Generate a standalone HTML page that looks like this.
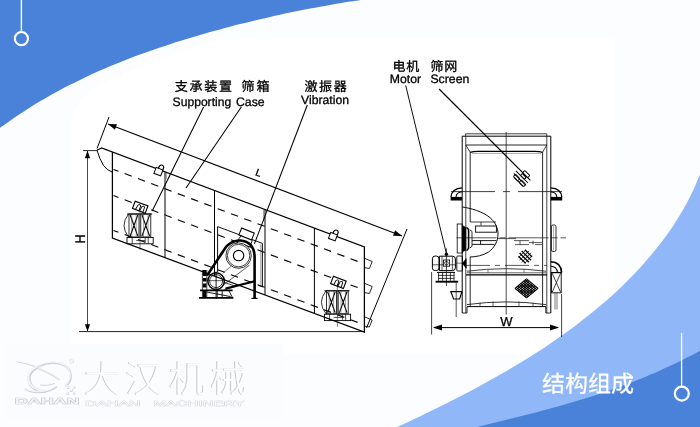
<!DOCTYPE html>
<html lang="zh">
<head>
<meta charset="utf-8">
<title>结构组成</title>
<style>
html,body{margin:0;padding:0;background:#fcfdff;}
body{width:700px;height:427px;overflow:hidden;}
svg{display:block;will-change:transform;}
text{white-space:pre;text-rendering:geometricPrecision;}
</style>
</head>
<body>
<svg width="700" height="427" viewBox="0 0 700 427">
<rect x="0" y="0" width="700" height="427" fill="#fcfdff"/>
<path fill="#ffffff" d="M614 37.5 L614 354 L70 354 L70 130 Q72 100 100 85 Q150 60 225 37.5 Z"/>
<path fill="#4a82da" d="M-5 -5 L-5 127.8 L0.0 127.8 C1.7 126.6 6.7 123.0 10.0 120.7 C13.3 118.3 16.7 116.1 20.0 113.9 C23.3 111.7 26.7 109.5 30.0 107.4 C33.3 105.3 36.7 103.3 40.0 101.3 C43.3 99.4 46.7 97.4 50.0 95.5 C53.3 93.7 56.7 91.8 60.0 90.1 C63.3 88.3 66.7 86.5 70.0 84.8 C73.3 83.1 76.7 81.5 80.0 79.9 C83.3 78.3 86.7 76.7 90.0 75.1 C93.3 73.6 96.7 72.1 100.0 70.6 C103.3 69.2 106.7 67.7 110.0 66.3 C113.3 64.9 116.7 63.6 120.0 62.2 C123.3 60.9 126.7 59.6 130.0 58.3 C133.3 57.0 136.7 55.8 140.0 54.6 C143.3 53.3 146.7 52.2 150.0 51.0 C153.3 49.8 156.7 48.7 160.0 47.5 C163.3 46.4 166.7 45.3 170.0 44.2 C173.3 43.1 176.7 42.1 180.0 41.0 C183.3 40.0 186.7 39.0 190.0 38.0 C193.3 36.9 196.7 36.0 200.0 35.0 C203.3 34.0 206.7 33.1 210.0 32.1 C213.3 31.2 216.7 30.3 220.0 29.4 C223.3 28.5 226.7 27.6 230.0 26.7 C233.3 25.8 236.7 25.0 240.0 24.1 C243.3 23.3 246.7 22.5 250.0 21.7 C253.3 20.8 256.7 20.0 260.0 19.3 C263.3 18.5 266.7 17.7 270.0 16.9 C273.3 16.2 276.7 15.4 280.0 14.7 C283.3 14.0 286.7 13.3 290.0 12.6 C293.3 11.9 296.7 11.2 300.0 10.5 C303.3 9.8 306.7 9.2 310.0 8.5 C313.3 7.9 316.7 7.3 320.0 6.7 C323.3 6.1 326.7 5.5 330.0 4.9 C333.3 4.3 336.7 3.7 340.0 3.2 C343.3 2.7 346.7 2.1 350.0 1.6 C353.3 1.1 358.3 0.4 360.0 0.2 L360.0 -5 Z"/>
<path fill="#90b8f8" d="M705 432 L705 167.0 L700 175.0 C698.9 176.7 697.0 181.7 695.5 185.1 C694.1 188.4 692.5 191.8 690.8 195.2 C689.2 198.5 687.4 201.9 685.6 205.2 C683.7 208.6 681.8 212.0 679.8 215.3 C677.7 218.7 675.6 222.0 673.4 225.4 C671.1 228.8 668.8 232.1 666.4 235.5 C664.0 238.8 661.5 242.2 658.8 245.6 C656.2 248.9 653.5 252.3 650.7 255.6 C647.9 259.0 644.9 262.4 641.9 265.7 C638.9 269.1 635.7 272.4 632.5 275.8 C629.2 279.2 625.8 282.5 622.4 285.9 C618.9 289.2 615.3 292.6 611.6 296.0 C607.8 299.3 604.0 302.7 600.0 306.0 C596.1 309.4 592.0 312.8 587.7 316.1 C583.5 319.5 579.2 322.8 574.7 326.2 C570.2 329.6 565.5 332.9 560.8 336.3 C556.0 339.6 551.1 343.0 546.1 346.4 C541.0 349.7 535.8 353.1 530.5 356.4 C525.1 359.8 519.7 363.2 514.0 366.5 C508.4 369.9 502.6 373.2 496.7 376.6 C490.8 380.0 484.7 383.3 478.5 386.7 C472.3 390.0 466.0 393.4 459.4 396.8 C452.9 400.1 446.3 403.5 439.5 406.8 C432.7 410.2 425.8 413.6 418.7 416.9 C411.7 420.3 400.7 425.3 397.1 427.0 L389.1 432 Z"/>
<path fill="#4a82da" d="M705 432 L705 348.7 L700 350.7 C698.3 351.6 693.3 354.4 689.9 356.1 C686.5 357.9 683.2 359.6 679.8 361.2 C676.5 362.9 673.1 364.5 669.7 366.1 C666.4 367.6 663.0 369.2 659.6 370.7 C656.3 372.2 652.9 373.6 649.5 375.0 C646.2 376.5 642.8 377.8 639.5 379.2 C636.1 380.6 632.7 381.9 629.4 383.2 C626.0 384.4 622.6 385.7 619.3 386.9 C615.9 388.1 612.5 389.3 609.2 390.5 C605.8 391.7 602.5 392.8 599.1 393.9 C595.7 395.0 592.4 396.1 589.0 397.2 C585.6 398.2 582.3 399.3 578.9 400.3 C575.5 401.3 572.2 402.3 568.8 403.3 C565.5 404.3 562.1 405.2 558.7 406.2 C555.4 407.1 552.0 408.0 548.6 409.0 C545.3 409.9 541.9 410.8 538.5 411.7 C535.2 412.5 531.8 413.4 528.5 414.3 C525.1 415.1 521.7 416.0 518.4 416.8 C515.0 417.7 511.6 418.5 508.3 419.3 C504.9 420.2 501.5 421.0 498.2 421.8 C494.8 422.6 491.5 423.4 488.1 424.2 C484.7 425.1 479.7 426.3 478.0 426.7 L464.0 432 Z"/>
<g stroke="#ffffff" fill="none"><line x1="21.4" y1="0" x2="21.4" y2="32" stroke-width="1.4"/><circle cx="21.4" cy="38.6" r="6.6" stroke-width="2.2"/><line x1="681.6" y1="333" x2="681.6" y2="387" stroke-width="1.3"/><circle cx="681.8" cy="393.6" r="7" stroke-width="2.2"/></g>
<text x="542" y="392.4" font-family="'Liberation Sans','Noto Sans CJK SC',sans-serif" font-size="23" fill="#ffffff" stroke="#ffffff" stroke-width="0.3">结构组成</text>
<g font-family="'Liberation Sans','Noto Sans CJK SC',sans-serif" fill="#000000" stroke="#000000" stroke-linejoin="round">
<text y="91.2" font-size="13.0" stroke-width="0.33"><tspan x="174.8 189.5 204.2 218.9">支承装置</tspan> <tspan x="241.4 256.4">筛箱</tspan></text>
<text y="106.0" font-size="12.3" stroke-width="0.30"><tspan x="172.6" textLength="58.6" lengthAdjust="spacingAndGlyphs">Supporting</tspan> <tspan x="236.0" textLength="28.6" lengthAdjust="spacingAndGlyphs">Case</tspan></text>
<text y="90.9" font-size="13.0" stroke-width="0.33"><tspan x="304.4 319.1 333.8">激振器</tspan></text>
<text y="103.9" font-size="12.1" stroke-width="0.30"><tspan x="301.0" textLength="48.0" lengthAdjust="spacingAndGlyphs">Vibration</tspan></text>
<text y="71.4" font-size="13.0" stroke-width="0.33"><tspan x="392.6 406.3">电机</tspan> <tspan x="430.4 444.3">筛网</tspan></text>
<text y="82.9" font-size="12.2" stroke-width="0.30"><tspan x="389.8" textLength="31.3" lengthAdjust="spacingAndGlyphs">Motor</tspan> <tspan x="430.4" textLength="39.0" lengthAdjust="spacingAndGlyphs">Screen</tspan></text>
</g>
<g id="left-view" fill="none" stroke="#000" stroke-linecap="butt" stroke-linejoin="miter">
<line x1="79.0" y1="331.6" x2="364.4" y2="331.6" stroke="#222" stroke-width="1.00"/>
<line x1="87.5" y1="151.0" x2="87.5" y2="331.0" stroke="#333" stroke-width="0.90"/>
<line x1="83.0" y1="150.6" x2="97.0" y2="150.6" stroke="#111" stroke-width="0.90"/>
<path d="M87.5 150.6 L84.9 158.2 L90.1 158.2 Z" fill="#000" stroke="none"/>
<path d="M87.5 331.6 L84.9 324.2 L90.1 324.2 Z" fill="#000" stroke="none"/>
<line x1="109.0" y1="117.0" x2="97.0" y2="148.5" stroke="#000" stroke-width="1.00"/>
<line x1="108.0" y1="124.0" x2="402.0" y2="236.0" stroke="#000" stroke-width="1.10"/>
<line x1="407.0" y1="229.0" x2="366.5" y2="328.0" stroke="#000" stroke-width="1.00"/>
<path d="M0 0 L8.5 -2.9 L8.5 2.9 Z" fill="#000" stroke="none" transform="translate(108 124) rotate(20.85)"/>
<path d="M0 0 L-8.5 -2.9 L-8.5 2.9 Z" fill="#000" stroke="none" transform="translate(402 236) rotate(20.85)"/>
<path d="M97 150.3 L101.6 148 L364.4 246.9 L364.4 332 L112.4 238 L112.4 152.5" fill="none" stroke="#000" stroke-width="1.25"/>
<path d="M97 150.3 Q99.5 159 103.5 165.5 Q106.5 170 112 172" fill="none" stroke="#000" stroke-width="1.00"/>
<line x1="165.0" y1="171.9" x2="165.0" y2="257.6" stroke="#000" stroke-width="1.00"/>
<line x1="214.5" y1="190.5" x2="214.5" y2="276.1" stroke="#000" stroke-width="1.00"/>
<line x1="265.0" y1="209.5" x2="265.0" y2="294.9" stroke="#000" stroke-width="1.00"/>
<line x1="314.4" y1="228.1" x2="314.4" y2="313.3" stroke="#000" stroke-width="1.00"/>
<line x1="166.4" y1="172.3" x2="166.4" y2="179.3" stroke="#333" stroke-width="0.50"/>
<line x1="263.6" y1="209.1" x2="263.6" y2="221.1" stroke="#333" stroke-width="0.50"/>
<line x1="113.5" y1="169.4" x2="363.0" y2="263.4" stroke="#000" stroke-width="1.1" stroke-dasharray="7.6 6.6" stroke-dashoffset="2.3"/>
<line x1="113.5" y1="195.6" x2="363.0" y2="289.6" stroke="#000" stroke-width="1.1" stroke-dasharray="7.6 6.6" stroke-dashoffset="2.3"/>
<line x1="113.5" y1="230.4" x2="363.0" y2="324.4" stroke="#000" stroke-width="1.1" stroke-dasharray="7.6 6.6" stroke-dashoffset="2.3"/>
<g transform="translate(158.5 171.5) rotate(20.6)"><path d="M-3.6 -3 L3.6 -3 L3.6 3.4 L-3.6 3.4 Z" fill="#fff" stroke="#000" stroke-width="1"/><path d="M-1.2 -3 Q-1.6 -7.4 1.6 -7.2 Q4 -7 3.4 -3" fill="none" stroke="#000" stroke-width="1.2"/></g>
<g transform="translate(333.0 236.5) rotate(20.6)"><path d="M-3.6 -3 L3.6 -3 L3.6 3.4 L-3.6 3.4 Z" fill="#fff" stroke="#000" stroke-width="1"/><path d="M-1.2 -3 Q-1.6 -7.4 1.6 -7.2 Q4 -7 3.4 -3" fill="none" stroke="#000" stroke-width="1.2"/></g>
<path d="M365 258.5 L372.2 261.5 L369.4 268.5 L365 267.7" fill="none" stroke="#111" stroke-width="0.90"/>
<path d="M365 283.5 L372.2 286.5 L369.4 293.5 L365 292.7" fill="none" stroke="#111" stroke-width="0.90"/>
<path d="M365 317.0 L372.2 320.0 L369.4 327.0 L365 326.2" fill="none" stroke="#111" stroke-width="0.90"/>
<g transform="translate(127.6 214.0)" stroke="#000" stroke-width="0.75" fill="none"><path d="M1 0 Q-8.2 11.5 1 23" stroke-width="0.8"/><rect x="1.4" y="0" width="10" height="23" stroke-width="0.8"/><path d="M2.6 1 L10.2 22 M10.2 1 L2.6 22" stroke-width="1.05"/><path d="M4.2 0 L4.2 23 M8.6 0 L8.6 23" stroke-width="0.5" stroke="#444"/><rect x="13.2" y="0" width="10" height="23" stroke-width="0.8"/><path d="M14.4 1 L22.0 22 M22.0 1 L14.4 22" stroke-width="1.05"/><path d="M16.0 0 L16.0 23 M20.4 0 L20.4 23" stroke-width="0.5" stroke="#444"/><path d="M-0.6 0 L24.6 0" stroke-width="1"/><rect x="-0.6" y="23.4" width="26.2" height="6.4" stroke-width="0.9"/><path d="M4.6 23.4 L4.6 29.8 M20.6 23.4 L20.6 29.8 M8.6 26.6 L17.6 26.6 M17.6 24 L17.6 29" stroke-width="0.7"/><path d="M12.4 -6 L12.4 36" stroke-width="0.6" stroke="#222"/></g>
<g transform="translate(140.2 207.2) rotate(20.6)" stroke="#000" fill="none"><rect x="-6.8" y="-3.9" width="13.6" height="7.8" stroke-width="1.15" fill="#fff"/><path d="M-3.6 3.6 L-2.8 -1.2 Q-1.4 -3 0 -1.2 L0 3.6 M0.8 3.6 L1.4 -1.2 Q2.8 -3 4.2 -1.2 L4.2 3.6" stroke-width="0.9"/></g>
<g transform="translate(325.0 290.8)" stroke="#000" stroke-width="0.75" fill="none"><path d="M1 0 Q-8.2 11.5 1 23" stroke-width="0.8"/><rect x="1.4" y="0" width="10" height="23" stroke-width="0.8"/><path d="M2.6 1 L10.2 22 M10.2 1 L2.6 22" stroke-width="1.05"/><path d="M4.2 0 L4.2 23 M8.6 0 L8.6 23" stroke-width="0.5" stroke="#444"/><rect x="13.2" y="0" width="10" height="23" stroke-width="0.8"/><path d="M14.4 1 L22.0 22 M22.0 1 L14.4 22" stroke-width="1.05"/><path d="M16.0 0 L16.0 23 M20.4 0 L20.4 23" stroke-width="0.5" stroke="#444"/><path d="M-0.6 0 L24.6 0" stroke-width="1"/><rect x="-0.6" y="23.4" width="26.2" height="6.4" stroke-width="0.9"/><path d="M4.6 23.4 L4.6 29.8 M20.6 23.4 L20.6 29.8 M8.6 26.6 L17.6 26.6 M17.6 24 L17.6 29" stroke-width="0.7"/><path d="M12.4 -6 L12.4 36" stroke-width="0.6" stroke="#222"/></g>
<g transform="translate(338.4 282.4) rotate(20.6)" stroke="#000" fill="none"><rect x="-6.8" y="-3.9" width="13.6" height="7.8" stroke-width="1.15" fill="#fff"/><path d="M-3.6 3.6 L-2.8 -1.2 Q-1.4 -3 0 -1.2 L0 3.6 M0.8 3.6 L1.4 -1.2 Q2.8 -3 4.2 -1.2 L4.2 3.6" stroke-width="0.9"/></g>
<path d="M217.6 272 L217.6 226.6 L262.4 243.4 L262.4 287" fill="none" stroke="#000" stroke-width="0.95"/>
<line x1="260.8" y1="244.5" x2="260.8" y2="286.4" stroke="#333" stroke-width="0.50"/>
<path d="M258.4 285.4 L262.8 287" fill="none" stroke="#111" stroke-width="0.80"/>
<g transform="translate(246.6 234) rotate(22)" stroke="#000" fill="#fff"><rect x="-6.8" y="-3.7" width="13.6" height="7.4" stroke-width="1"/></g>
<line x1="241.2" y1="235.6" x2="236.2" y2="242.4" stroke="#000" stroke-width="0.90"/>
<line x1="252.4" y1="240.2" x2="250.6" y2="244.6" stroke="#000" stroke-width="0.90"/>
<circle cx="238.6" cy="255.6" r="12.7" stroke="#000" stroke-width="0.80" fill="#fff"/>
<circle cx="238.6" cy="255.6" r="11.2" stroke="#000" stroke-width="0.75" fill="none"/>
<circle cx="238.6" cy="255.6" r="5.2" stroke="#000" stroke-width="1.10" fill="none"/>
<path d="M207 275.6 L226.2 246.6 Q232.6 240.2 240.2 240.5 Q254.6 241.8 254.6 257.6 L254.6 298.4" fill="none" stroke="#000" stroke-width="2.60"/>
<path d="M254.6 281.2 L225.6 288.6" fill="none" stroke="#000" stroke-width="2.20"/>
<line x1="249.6" y1="265.0" x2="222.6" y2="285.6" stroke="#111" stroke-width="0.70"/>
<line x1="231.4" y1="266.0" x2="222.6" y2="273.4" stroke="#222" stroke-width="0.60"/>
<circle cx="216.1" cy="281.1" r="8.3" stroke="#000" stroke-width="1.5" fill="none"/>
<circle cx="216.1" cy="281.1" r="6.5" stroke="#000" stroke-width="0.8" fill="none"/>
<line x1="207.6" y1="280.7" x2="225.0" y2="280.7" stroke="#111" stroke-width="0.70"/>
<line x1="216.1" y1="271.6" x2="216.1" y2="299.0" stroke="#000" stroke-width="0.90"/>
<path d="M224.4 282.4 L235.4 286.2 L224.4 289.4" fill="none" stroke="#000" stroke-width="0.80"/>
<line x1="204.6" y1="270" x2="204.6" y2="297.8" stroke="#000" stroke-width="3.6" stroke-dasharray="6 2 3.6 2 4 3.4 7"/>
<line x1="202.4" y1="270.0" x2="202.4" y2="297.8" stroke="#000" stroke-width="0.70"/>
<line x1="206.8" y1="270.0" x2="206.8" y2="297.8" stroke="#000" stroke-width="0.70"/>
<line x1="200.0" y1="290.4" x2="232.6" y2="290.4" stroke="#000" stroke-width="1.70"/>
<path d="M206.6 292 L230.6 296.6 M217.2 290.4 L217.2 297.4 M222.2 290.4 L222.2 297.4 M229 291 L232.4 297.4" fill="none" stroke="#000" stroke-width="0.90"/>
<line x1="199.0" y1="297.9" x2="233.4" y2="297.9" stroke="#000" stroke-width="1.70"/>
<line x1="251.4" y1="298.4" x2="257.6" y2="298.4" stroke="#000" stroke-width="1.20"/>
<line x1="203.6" y1="107.0" x2="152.2" y2="211.0" stroke="#000" stroke-width="1.05"/>
<line x1="241.3" y1="107.0" x2="186.0" y2="188.0" stroke="#000" stroke-width="1.05"/>
<line x1="307.3" y1="105.0" x2="254.4" y2="243.8" stroke="#000" stroke-width="1.05"/>
</g>
<text x="0" y="0" transform="translate(84.8 239) rotate(-90) scale(1 1.12)" text-anchor="middle" font-family="'Liberation Sans',sans-serif" font-size="12.5" fill="#000" stroke="#000" stroke-width="0.3">H</text>
<text x="-0.8" y="0" transform="translate(255.4 175.4) rotate(20.6)" font-family="'Liberation Sans',sans-serif" font-size="10" fill="#000" stroke="#000" stroke-width="0.35">L</text>
<g id="right-view" fill="none" stroke="#000" stroke-linecap="butt" stroke-linejoin="miter">
<path d="M465.6 136.2 L465.6 133.8 L546.8 133.8 L546.8 136.2" fill="none" stroke="#111" stroke-width="0.80"/>
<path d="M462.2 313 L462.2 136.2 L550.8 136.2 L550.8 313" fill="none" stroke="#000" stroke-width="1.00"/>
<line x1="465.8" y1="136.2" x2="465.8" y2="313.0" stroke="#111" stroke-width="0.80"/>
<line x1="546.8" y1="136.2" x2="546.8" y2="313.0" stroke="#111" stroke-width="0.80"/>
<line x1="470.2" y1="152.0" x2="470.2" y2="222.0" stroke="#111" stroke-width="0.90"/>
<line x1="470.2" y1="256.6" x2="470.2" y2="307.0" stroke="#111" stroke-width="0.90"/>
<line x1="542.6" y1="152.0" x2="542.6" y2="307.0" stroke="#111" stroke-width="0.90"/>
<line x1="465.8" y1="145.0" x2="546.8" y2="145.0" stroke="#111" stroke-width="0.90"/>
<path d="M470.2 152.4 Q474 151 480 151.4 L532 151.4 Q539 151 542.6 152.4" fill="none" stroke="#000" stroke-width="1.15"/>
<line x1="472.0" y1="153.4" x2="541.0" y2="153.4" stroke="#555" stroke-width="0.50"/>
<line x1="465.8" y1="145.0" x2="470.2" y2="152.2" stroke="#111" stroke-width="0.80"/>
<line x1="546.8" y1="145.0" x2="542.6" y2="152.2" stroke="#111" stroke-width="0.80"/>
<path d="M462.2 313 L467 313 L467 307" fill="none" stroke="#111" stroke-width="0.90"/>
<path d="M550.6 313 L545.8 313 L545.8 307" fill="none" stroke="#111" stroke-width="0.90"/>
<line x1="506.2" y1="132.0" x2="506.2" y2="314.6" stroke="#111" stroke-width="0.75"/>
<path d="M451 191.6 L495 191.6 M503 191.6 L510 191.6 M518 191.6 L562 191.6" fill="none" stroke="#111" stroke-width="0.80"/>
<g transform="translate(462.2 199) scale(-1 1)">
<path d="M0 -11.2 Q10.6 -10.6 11.2 -2" stroke="#000" stroke-width="1.3" fill="none"/>
<path d="M0 -7.2 Q5.8 -6.8 6.2 -2" stroke="#000" stroke-width="1.1" fill="none"/>
<rect x="0.2" y="-2.1" width="11.4" height="3.6" fill="#000" stroke="none"/>
</g>
<g transform="translate(550.6 199) scale(1 1)">
<path d="M0 -11.2 Q10.6 -10.6 11.2 -2" stroke="#000" stroke-width="1.3" fill="none"/>
<path d="M0 -7.2 Q5.8 -6.8 6.2 -2" stroke="#000" stroke-width="1.1" fill="none"/>
<rect x="0.2" y="-2.1" width="11.4" height="3.6" fill="#000" stroke="none"/>
</g>
<g transform="translate(521.8 178.2) rotate(45)" stroke="#000" fill="none"><path d="M-9.4 -1 L7.8 -1 M-9 2.2 L7.8 2.2 M-5.6 4.9 L6.4 4.9" stroke-width="1"/><rect x="-3.4" y="-7.6" width="7.2" height="3.4" rx="0.9" stroke-width="0.95"/><rect x="-7.2" y="1.6" width="6.2" height="3.2" rx="0.9" stroke-width="0.95"/><rect x="1.0" y="1.6" width="6.2" height="3.2" rx="0.9" stroke-width="0.95"/><rect x="-3.0" y="-3.6" width="5.6" height="2.6" rx="0.9" stroke-width="0.95"/></g>
<g transform="translate(525.3 256.6) rotate(45)" stroke="#000" fill="none"><path d="M-5.1 -4.5 L5.1 -4.5" stroke-width="1.35"/><path d="M-6.6 -1.5 L6.6 -1.5" stroke-width="1.35"/><path d="M-6.6 1.5 L6.6 1.5" stroke-width="1.35"/><path d="M-5.1 4.5 L5.1 4.5" stroke-width="1.35"/><path d="M-4.2 -5.3 L-4.2 5.3" stroke-width="0.7"/><path d="M-1.4 -6.7 L-1.4 6.7" stroke-width="0.7"/><path d="M1.4 -6.7 L1.4 6.7" stroke-width="0.7"/><path d="M4.2 -5.3 L4.2 5.3" stroke-width="0.7"/></g>
<g transform="translate(526.5 288.4) scale(1.10 0.92) rotate(45)" stroke="#000" stroke-width="1.05"><path d="M-7.4 -7.4 L-7.4 7.4 M-7.4 -7.4 L7.4 -7.4"/><path d="M-5.6 -7.4 L-5.6 7.4 M-7.4 -5.6 L7.4 -5.6"/><path d="M-3.7 -7.4 L-3.7 7.4 M-7.4 -3.7 L7.4 -3.7"/><path d="M-1.8 -7.4 L-1.8 7.4 M-7.4 -1.8 L7.4 -1.8"/><path d="M0.0 -7.4 L0.0 7.4 M-7.4 0.0 L7.4 0.0"/><path d="M1.8 -7.4 L1.8 7.4 M-7.4 1.8 L7.4 1.8"/><path d="M3.7 -7.4 L3.7 7.4 M-7.4 3.7 L7.4 3.7"/><path d="M5.6 -7.4 L5.6 7.4 M-7.4 5.6 L7.4 5.6"/><path d="M7.4 -7.4 L7.4 7.4 M-7.4 7.4 L7.4 7.4"/></g>
<path d="M462.2 207 C470 208 483 211.6 490 217.6 C495.6 222.4 498 228.4 498 234 C498 241 494.6 247.6 488.6 252 C483 255.6 476 256.8 470.2 257" fill="none" stroke="#000" stroke-width="0.95"/>
<path d="M470.2 222 L496 222 M481 222 L481 225.6" fill="none" stroke="#111" stroke-width="0.80"/>
<rect x="475.6" y="226" width="20.8" height="6.2" stroke="#000" stroke-width="0.9" fill="none"/>
<path d="M472 240.6 L496.4 240.6 M472 244.4 L494.4 244.4 M480.6 240.6 L480.6 244.4" fill="none" stroke="#000" stroke-width="0.90"/>
<line x1="456.5" y1="237.8" x2="566" y2="237.8" stroke="#111" stroke-width="0.7" stroke-dasharray="40 3 6 3"/>
<rect x="457.2" y="224" width="5" height="29" stroke="#000" stroke-width="0.8" fill="none"/>
<path d="M462.4 225.4 L465.8 227.4 L465.8 250 L462.4 252 Z" fill="#000" stroke="#000" stroke-width="0.6"/>
<path d="M466.4 227.4 Q468.2 227.8 468.6 230.4 L468.6 247.4 Q468.2 250 466.4 250.4" fill="none" stroke="#000" stroke-width="1.5"/><path d="M469.6 229.6 L472 231.4 L472 246.4 L469.6 248.2" fill="none" stroke="#000" stroke-width="0.8"/>
<path d="M498 238.6 L516 238.6 M514 240.6 L529 240.6 M529 242.6 L542 242.6 M515 244.6 L529 244.6 M535 244.6 L542 244.6 M520 240.6 L520 244.6 M533 240.6 L533 244.6" fill="none" stroke="#111" stroke-width="0.70"/>
<rect x="551.4" y="225" width="4.6" height="26.5" rx="1.6" stroke="#000" stroke-width="0.8" fill="none"/>
<line x1="553.6" y1="226.0" x2="553.6" y2="250.6" stroke="#555" stroke-width="0.50"/>
<line x1="466" y1="265.4" x2="547" y2="265.4" stroke="#111" stroke-width="0.7" stroke-dasharray="24 5 5 5"/>
<path d="M467 271.2 Q506 266.2 546 271.2" fill="none" stroke="#111" stroke-width="0.80"/>
<path d="M467 272.8 L546 272.8" fill="none" stroke="#222" stroke-width="0.70"/>
<path d="M466 274.8 L547 274.8" fill="none" stroke="#000" stroke-width="1.20"/>
<path d="M488 269 L488 272.8 M524 269 L524 272.8" fill="none" stroke="#333" stroke-width="0.60"/>
<path d="M467 304.6 Q506 299.2 546 304.6" fill="none" stroke="#111" stroke-width="0.85"/>
<path d="M467 306.6 L546 306.6" fill="none" stroke="#000" stroke-width="1.00"/>
<path d="M480 302.6 L480 306.6 M493 301.4 L493 306.6 M519 301.4 L519 306.6 M533 302.6 L533 306.6" fill="none" stroke="#222" stroke-width="0.70"/>
<rect x="432.4" y="256" width="6.6" height="14.6" rx="2.8" stroke="#000" stroke-width="1" fill="none"/>
<path d="M439.4 256.2 L452.6 256.2 Q455.4 256.2 455.4 259 L455.4 267.8 Q455.4 270.6 452.6 270.6 L439.4 270.6 Z" stroke="#000" stroke-width="1" fill="none"/>
<path d="M432.4 264.8 L455.4 264.8 M442 256.2 L442 270.6 M452.4 256.2 L452.4 270.6" fill="none" stroke="#111" stroke-width="0.70"/>
<rect x="443.4" y="260" width="6.2" height="6.2" stroke="#000" stroke-width="0.8" fill="#fff"/>
<circle cx="446.4" cy="263.2" r="1.8" stroke="#000" stroke-width="0.7" fill="none"/>
<circle cx="446.4" cy="254.2" r="1.7" fill="#000" stroke="none"/>
<line x1="446.4" y1="248.4" x2="446.4" y2="286.0" stroke="#000" stroke-width="0.75"/>
<path d="M437 272.4 L455 272.4" fill="none" stroke="#000" stroke-width="1.00"/>
<path d="M438 275.4 L454.4 275.4 M438 278.4 L454.4 278.4 M438.6 272 L438.6 280.8 M442.6 272 L442.6 280.8 M450.4 272 L450.4 280.8 M454 272 L454 280.8" fill="none" stroke="#000" stroke-width="0.75"/>
<line x1="435.6" y1="281.7" x2="458.2" y2="281.7" stroke="#000" stroke-width="1.90"/>
<rect x="456.8" y="256" width="5.6" height="15" rx="1" stroke="#000" stroke-width="0.9" fill="none"/>
<path d="M466.2 258.6 L462.4 263.4 L466.2 268.2 Z" fill="#000" stroke="#000" stroke-width="0.6"/>
<line x1="455.2" y1="263.2" x2="462.0" y2="263.2" stroke="#222" stroke-width="0.60"/>
<path d="M450.2 291.6 L462.4 291.6 M451 292 L453.6 299 L459.6 299 L461.8 292" fill="none" stroke="#000" stroke-width="1.10"/>
<line x1="456.2" y1="282.4" x2="456.2" y2="317.0" stroke="#111" stroke-width="0.70"/>
<path d="M550.8 261.8 Q561 262.2 561.6 272.4" fill="none" stroke="#000" stroke-width="1.60"/>
<path d="M550.8 266.2 Q557 266.4 557.4 272.4" fill="none" stroke="#000" stroke-width="1.10"/>
<rect x="551.6" y="272.4" width="9.6" height="20.4" stroke="#000" stroke-width="0.9" fill="none"/>
<path d="M552.2 273.2 L560.6 292.2 M560.6 273.2 L552.2 292.2" fill="none" stroke="#111" stroke-width="0.80"/>
<line x1="551.0" y1="272.6" x2="562.0" y2="272.6" stroke="#000" stroke-width="1.20"/>
<line x1="555.0" y1="292.4" x2="555.0" y2="309.6" stroke="#222" stroke-width="0.60"/>
<line x1="557.0" y1="292.4" x2="557.0" y2="309.6" stroke="#222" stroke-width="0.60"/>
<line x1="431.6" y1="272.0" x2="431.6" y2="334.4" stroke="#111" stroke-width="0.80"/>
<line x1="561.6" y1="294.0" x2="561.6" y2="337.0" stroke="#111" stroke-width="0.80"/>
<line x1="434.0" y1="327.6" x2="558.0" y2="327.6" stroke="#000" stroke-width="1.00"/>
<path d="M433 327.6 L442 324.6 L442 330.6 Z" fill="#000" stroke="none"/>
<path d="M559 327.6 L550 324.6 L550 330.6 Z" fill="#000" stroke="none"/>
<line x1="405.7" y1="85.4" x2="446.4" y2="253.6" stroke="#000" stroke-width="0.95"/>
<line x1="439.1" y1="89.0" x2="530.4" y2="180.3" stroke="#000" stroke-width="1.10"/>
</g>
<text x="506.4" y="326" text-anchor="middle" font-family="'Liberation Sans',sans-serif" font-size="13" fill="#000" stroke="#000" stroke-width="0.3">W</text>
<g id="watermark">
<rect x="5" y="344" width="278" height="75" fill="#fbfcfe"/>
<g transform="translate(0.5 0.5)" fill="none" stroke="#d0d1d6" stroke-linecap="round" stroke-linejoin="round">
<path d="M37.4 366.6 C31 369.6 27.6 375 28.8 380.6 C30 386.6 36 390.4 43.6 391" stroke-width="3.20"/>
<path d="M40 365.2 C46 362 58 361 65 365.6 C71.6 370 72.4 379.6 65.6 385.2" stroke-width="2.20"/>
<path d="M24.8 388.6 C32 393.4 47 393.6 56 386.4" stroke-width="1.50"/>
<path d="M16.4 361.2 C24 362.6 31 364.4 37 366.8" stroke-width="1.00"/>
<path d="M38.6 368.2 C46 371 53 374.6 58.4 379" stroke-width="1.60"/>
<path d="M40 384.4 C45 385.4 50 384.8 54 383" stroke-width="1.00"/>
<circle cx="71.2" cy="360.8" r="1.9" stroke-width="0.6"/>
</g>
<path transform="translate(0.5 0.5)" fill="#d0d1d6" d="M66 385.4h2.8v2.8h-2.8z M69.4 388.6h2.8v2.8h-2.8z M66 391.6h2.6v2.6h-2.6z M72.4 385.8h2.4v2.4h-2.4z M72.6 391.8h2.2v2.2h-2.2z"/>
<g transform="translate(-0.2 -0.3)" fill="none" stroke="#f3f4f7" stroke-linecap="round" stroke-linejoin="round">
<path d="M37.4 366.6 C31 369.6 27.6 375 28.8 380.6 C30 386.6 36 390.4 43.6 391" stroke-width="1.98"/>
<path d="M40 365.2 C46 362 58 361 65 365.6 C71.6 370 72.4 379.6 65.6 385.2" stroke-width="1.36"/>
<path d="M24.8 388.6 C32 393.4 47 393.6 56 386.4" stroke-width="0.93"/>
<path d="M16.4 361.2 C24 362.6 31 364.4 37 366.8" stroke-width="0.62"/>
<path d="M38.6 368.2 C46 371 53 374.6 58.4 379" stroke-width="0.99"/>
<path d="M40 384.4 C45 385.4 50 384.8 54 383" stroke-width="0.62"/>
<circle cx="71.2" cy="360.8" r="1.9" stroke-width="0.6"/>
</g>
<path transform="translate(-0.2 -0.3)" fill="#f3f4f7" d="M66 385.4h2.8v2.8h-2.8z M69.4 388.6h2.8v2.8h-2.8z M66 391.6h2.6v2.6h-2.6z M72.4 385.8h2.4v2.4h-2.4z M72.6 391.8h2.2v2.2h-2.2z"/>
<text x="14.8" y="404.4" font-family="'Liberation Sans',sans-serif" font-weight="700" font-size="8.6" textLength="64.6" lengthAdjust="spacingAndGlyphs" fill="#f1f2f5" stroke="#c0c1c6" stroke-width="0.7" paint-order="stroke">DAHAN</text>
<filter id="wm-edge" x="-3%" y="-10%" width="106%" height="120%" color-interpolation-filters="sRGB"><feMorphology in="SourceAlpha" operator="dilate" radius="0.4" result="fat"/><feOffset in="fat" dx="-0.75" dy="-0.4" result="off"/><feFlood flood-color="#c3c4c9"/><feComposite in2="off" operator="in" result="edge"/><feMerge><feMergeNode in="edge"/><feMergeNode in="SourceGraphic"/></feMerge></filter>
<text x="84.3 125.6 169.3 210.5" y="392.4" filter="url(#wm-edge)" font-family="'Liberation Sans','Noto Sans CJK SC',sans-serif" font-weight="300" font-size="36.5" fill="#ffffff" stroke="#ffffff" stroke-width="0.3">大汉机械</text>
<text y="405.6" font-family="'Liberation Sans',sans-serif" font-size="7.4" fill="#fdfdfe" stroke="#c9cacf" stroke-width="0.55" paint-order="stroke"><tspan x="85" textLength="55.4" lengthAdjust="spacingAndGlyphs">DAHAN</tspan> <tspan x="153.3" textLength="91.3" lengthAdjust="spacingAndGlyphs">MACHINERY</tspan></text>
</g>
</svg>
</body>
</html>
